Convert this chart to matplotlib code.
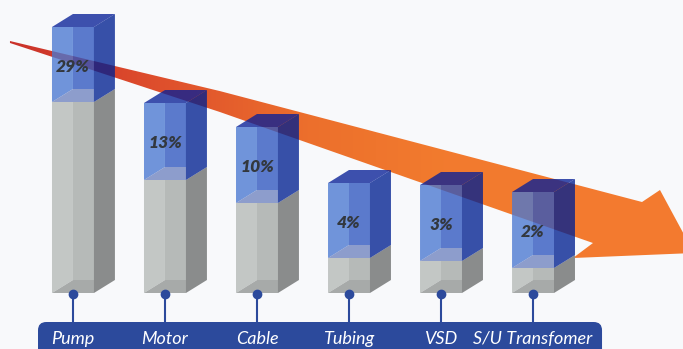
import numpy as np
import matplotlib
matplotlib.use("Agg")
import matplotlib.pyplot as plt
from matplotlib.patches import Polygon, FancyBboxPatch
from matplotlib.colors import LinearSegmentedColormap, to_rgb
from matplotlib import font_manager

# data
categories = ['Pump', 'Motor', 'Cable', 'Tubing', 'VSD', 'S/U Transfomer']
shares = [29, 13, 10, 4, 3, 2]
gray_height = [191, 113, 90, 35, 32, 25]
blue_height = [75, 77, 76, 75, 76, 76]

bg = '#f8f9fb'
navy = '#2c4a9c'

names = {f.name for f in font_manager.fontManager.ttflist}
label_font = 'Liberation Sans Narrow' if 'Liberation Sans Narrow' in names else 'Lato'
label_size = 14 if label_font == 'Liberation Sans Narrow' else 13

# box geometry (x in category units, y in value units)
W, DX, DY = 0.456, 0.228, 13
BLUE_ALPHA = 0.78


def under(color, a):
    # colour that gives `color` when drawn with alpha a over the background
    c = np.array(to_rgb(color))
    b = np.array(to_rgb(bg))
    return tuple(np.clip((c - (1 - a) * b) / a, 0, 1))


def draw_box(ax, xc, y0, y1, faces, alpha, top, z):
    x0, x1 = xc - W / 2, xc + W / 2
    xb = x0 + DX
    polys = {
        'light': [(x0, y0), (xb, y0 + DY), (xb, y1), (x0, y1)],
        'floor': [(x0, y0), (x1, y0), (x1, y0 + DY), (xb, y0 + DY)],
        'back': [(xb, y0 + DY), (x1, y0 + DY), (x1, y1), (xb, y1)],
        'side': [(x1, y0), (x1 + DX, y0 + DY), (x1 + DX, y1 + DY), (x1, y1)],
    }
    if top:
        polys['top'] = [(x0, y1), (x1, y1), (x1 + DX, y1 + DY), (x0 + DX, y1 + DY)]
    for k, pts in polys.items():
        col = under(faces[k], alpha) if alpha < 1 else faces[k]
        ax.add_patch(Polygon(pts, closed=True, facecolor=col, alpha=alpha,
                             edgecolor='none', lw=0, zorder=z))


gray_faces = {'light': '#c3c7c5', 'back': '#b6bab8', 'floor': '#a7aaa9',
              'side': '#8a8c8c', 'top': '#b0b3b2'}
blue_faces = {'light': '#7094da', 'back': '#5b7bcc', 'floor': '#8d9dcc',
              'side': '#3450a8', 'top': '#3d50ae'}

fig = plt.figure(figsize=(6.83, 3.49), dpi=100, facecolor=bg)
ax = fig.add_axes([0, 0, 1, 1])
ax.set_facecolor(bg)
ax.axis('off')
xlim = (-0.793, 6.630)
ylim = (-56, 293)

# orange trend arrow behind the bars (axes fraction)
arrow = [(0.0146, 0.8825), (0.322, 0.739), (0.9400, 0.4212), (0.9663, 0.4556),
         (1.0161, 0.2751), (0.8389, 0.2607), (0.8682, 0.3037),
         (0.322, 0.679), (0.0146, 0.8768)]
cmap = LinearSegmentedColormap.from_list(
    'arr', [(0, '#c9302a'), (0.2, '#dc4a2c'), (0.45, '#ec6f2c'),
            (0.65, '#f27b2e'), (1, '#f47a30')])
grad = np.linspace(0, 1, 256).reshape(1, -1)
im = ax.imshow(grad, extent=[0, 1, 0, 1], transform=ax.transAxes,
               aspect='auto', cmap=cmap, zorder=1)
clip = Polygon(arrow, closed=True, transform=ax.transAxes,
               facecolor='none', edgecolor='none')
ax.add_patch(clip)
im.set_clip_path(clip)

x = np.arange(len(categories))
for i in x:
    g = gray_height[i]
    b = blue_height[i]
    draw_box(ax, i, 0, g, gray_faces, 1.0, False, 3)
    draw_box(ax, i, g, g + b, blue_faces, BLUE_ALPHA, True, 3)
    ax.text(i, g + b / 2 - 2, f'{shares[i]}%', ha='center', va='center',
            fontsize=12.5, fontweight='heavy', style='italic', family='Lato',
            color='#33383e', zorder=6)

# label strip
strip = FancyBboxPatch((-0.38, -90), 6.13, 61,
                       boxstyle='round,pad=0,rounding_size=0.09',
                       mutation_aspect=92, facecolor=navy, edgecolor='none',
                       zorder=4)
ax.add_patch(strip)
for i in x:
    ax.plot([i, i], [-1, -29], color=navy, lw=1.5, zorder=4,
            solid_capstyle='butt')
    ax.plot(i, -1, 'o', color=navy, ms=6, zorder=5)
    ax.text(i, -51, categories[i], ha='center', va='baseline',
            fontsize=label_size, style='italic', family=label_font,
            color='white', zorder=6)

ax.set_xlim(*xlim)
ax.set_ylim(*ylim)
fig.savefig('out.png', dpi=100, facecolor=bg)
